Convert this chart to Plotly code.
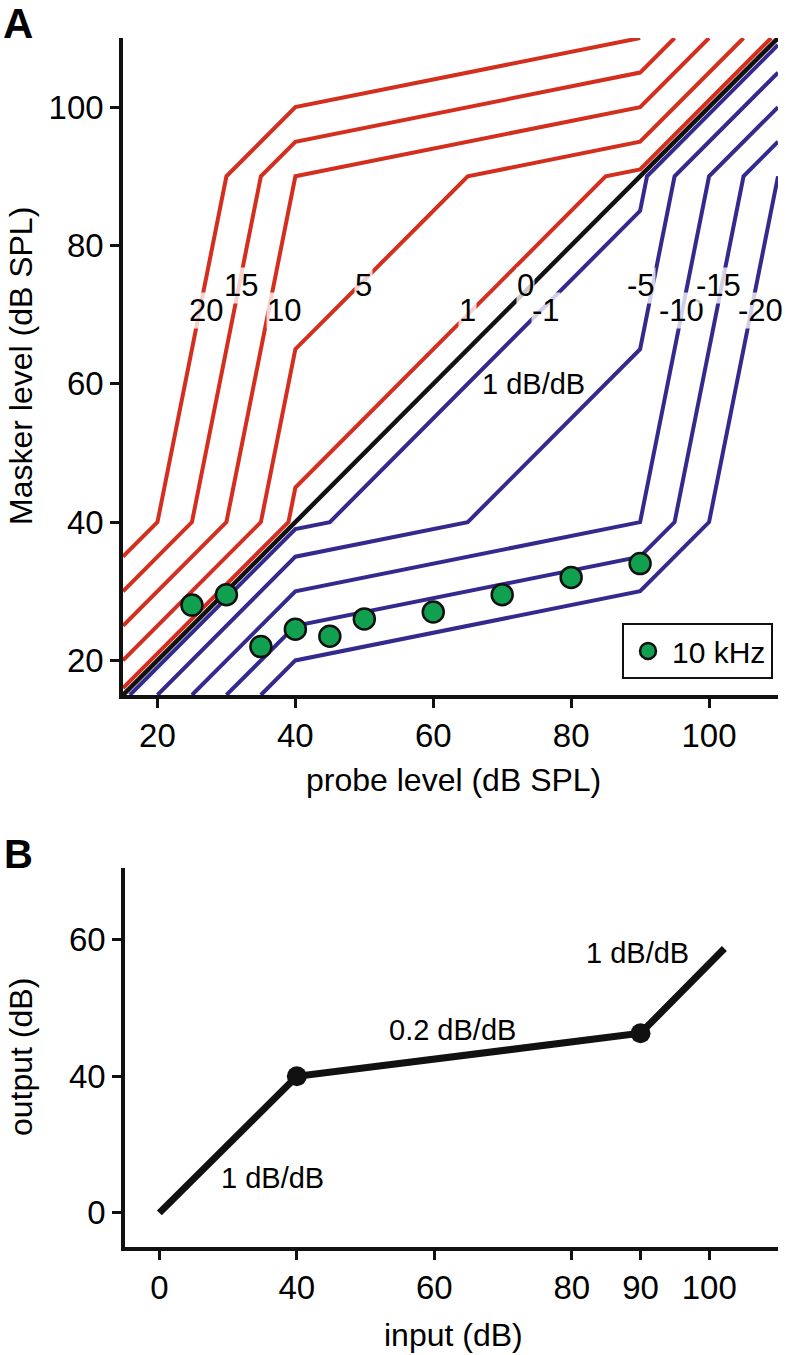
import plotly.graph_objects as go

# ---------------- Panel A data ----------------
# contour lines: probe level (x) and masker level (y) vertices
contour_labels = ["20", "15", "10", "5", "1", "0", "-1", "-5", "-10", "-15", "-20"]
contour_probe = {
    "20": [15, 20, 30, 40, 90],
    "15": [15, 25, 35, 40, 90, 95],
    "10": [15, 30, 40, 90, 100],
    "5": [15, 35, 40, 65, 90, 105],
    "1": [15, 39, 40, 85, 90, 109],
    "0": [15, 110],
    "-1": [16, 40, 45, 90, 91, 110],
    "-5": [20, 40, 65, 90, 95, 110],
    "-10": [25, 40, 90, 100, 110],
    "-15": [30, 40, 90, 95, 105, 110],
    "-20": [35, 40, 90, 100, 110],
}
contour_masker = {
    "20": [35, 40, 90, 100, 110],
    "15": [30, 40, 90, 95, 105, 110],
    "10": [25, 40, 90, 100, 110],
    "5": [20, 40, 65, 90, 95, 110],
    "1": [16, 40, 45, 90, 91, 110],
    "0": [15, 110],
    "-1": [15, 39, 40, 85, 90, 109],
    "-5": [15, 35, 40, 65, 90, 105],
    "-10": [15, 30, 40, 90, 100],
    "-15": [15, 25, 35, 40, 90, 95],
    "-20": [15, 20, 30, 40, 90],
}
# label anchor positions (probe, masker)
label_probe = [27.1, 32.1, 38.3, 49.9, 64.9, 73.4, 76.3, 90.2, 96.0, 101.4, 107.5]
label_masker = [70.6, 74.2, 70.6, 74.2, 70.6, 74.2, 70.6, 74.2, 70.6, 74.2, 70.6]

# 10 kHz data points
data_probe = [25, 30, 35, 40, 45, 50, 60, 70, 80, 90]
data_masker = [28, 29.5, 22, 24.5, 23.5, 26, 27, 29.5, 32, 34]

a_ticks = [20, 40, 60, 80, 100]

# ---------------- Panel B data ----------------
io_x = [20, 40, 90, 102.2]      # axis positions (first is labelled "0")
io_y = [20, 40, 46.3, 58.7]
io_knee_x = [40, 90]
io_knee_y = [40, 46.3]
b_xtickvals = [20, 40, 60, 80, 90, 100]
b_xticktext = ["0", "40", "60", "80", "90", "100"]
b_ytickvals = [20, 40, 60]
b_yticktext = ["0", "40", "60"]

RED = "#d42e1e"
BLUE = "#342a8e"
GREEN = "#10a050"
FONT = "Liberation Sans, Arial, Helvetica, sans-serif"

W, H = 786, 1355
def px(x):
    return x / W
def py(y):
    return 1 - y / H

fig = go.Figure()

for lab in contour_labels:
    v = float(lab)
    if v == 0:
        continue
    col = RED if v > 0 else BLUE
    fig.add_trace(go.Scatter(x=contour_probe[lab], y=contour_masker[lab], mode="lines",
                             line=dict(color=col, width=4), showlegend=False,
                             xaxis="x", yaxis="y", hoverinfo="skip"))
fig.add_trace(go.Scatter(x=contour_probe["0"], y=contour_masker["0"], mode="lines",
                         line=dict(color="#111111", width=4.5), showlegend=False,
                         xaxis="x", yaxis="y", hoverinfo="skip"))

fig.add_trace(go.Scatter(x=data_probe, y=data_masker, mode="markers", name="10 kHz",
                         marker=dict(color=GREEN, size=21, line=dict(color="#111111", width=2.5)),
                         xaxis="x", yaxis="y"))

# Panel B
fig.add_trace(go.Scatter(x=io_x, y=io_y, mode="lines", line=dict(color="#111111", width=7),
                         showlegend=False, xaxis="x2", yaxis="y2", hoverinfo="skip"))
fig.add_trace(go.Scatter(x=io_knee_x, y=io_knee_y, mode="markers",
                         marker=dict(color="#111111", size=20), showlegend=False,
                         xaxis="x2", yaxis="y2", hoverinfo="skip"))

def ann(x, y, text, size, ref="paper", angle=0, bg=None):
    d = dict(x=x, y=y, xref="x" if ref == "x" else "paper", yref="y" if ref == "x" else "paper",
             text=text, showarrow=False, xanchor="center", yanchor="middle", textangle=angle,
             font=dict(size=size, color="black", family=FONT))
    if bg:
        d["bgcolor"] = bg
        d["borderpad"] = 0
    return d

annotations = []
for lab, lx, ly in zip(contour_labels, label_probe, label_masker):
    annotations.append(ann(lx, ly, lab, 31, ref="x", bg="rgba(255,255,255,0.78)"))
annotations.append(ann(74.5, 60.0, "1 dB/dB", 29, ref="x"))
# panel B labels
annotations += [
    ann(px(637), py(953), "1 dB/dB", 29),
    ann(px(452), py(1030), "0.2 dB/dB", 29),
    ann(px(272), py(1178), "1 dB/dB", 29),
]
# panel letters
annotations += [
    ann(px(18), py(24), "<b>A</b>", 42),
    ann(px(18), py(854), "<b>B</b>", 40),
]
# axis titles
annotations += [
    ann(px(21), py(366), "Masker level (dB SPL)", 32, angle=-90),
    ann(px(453), py(780), "probe level (dB SPL)", 32),
    ann(px(21), py(1057), "output (dB)", 32, angle=-90),
    ann(px(453), py(1335), "input (dB)", 32),
]

axis_common = dict(showline=True, linecolor="#111111", linewidth=3.5, ticks="outside",
                   ticklen=9, tickwidth=3, tickcolor="#111111", showgrid=False, zeroline=False,
                   tickfont=dict(size=33, color="black", family=FONT), mirror=False,
                   automargin=False)

fig.update_layout(
    template="none",
    width=W, height=H, margin=dict(l=0, r=0, t=0, b=0, autoexpand=False),
    paper_bgcolor="white", plot_bgcolor="white",
    font=dict(family=FONT, color="black"),
    xaxis=dict(domain=[px(123), px(778)], range=[15, 110], tickvals=a_ticks, anchor="y",
               **axis_common),
    yaxis=dict(domain=[py(695), py(38)], range=[15, 110], tickvals=a_ticks, anchor="x",
               **axis_common),
    xaxis2=dict(domain=[px(125), px(778)], range=[15, 110], tickvals=b_xtickvals,
                ticktext=b_xticktext, anchor="y2", **axis_common),
    yaxis2=dict(domain=[py(1247), py(868)], range=[15, 70.5], tickvals=b_ytickvals,
                ticktext=b_yticktext, anchor="x2", **axis_common),
    showlegend=True,
    legend=dict(x=px(773), y=py(679), xanchor="right", yanchor="bottom",
                bordercolor="#111111", borderwidth=2, bgcolor="white", itemwidth=38,
                font=dict(size=30, color="black", family=FONT), itemsizing="trace",
                tracegroupgap=0),
    annotations=annotations,
)

fig.write_html("out.html", config={"displayModeBar": False},
               post_script="document.body.style.margin='0px';")
